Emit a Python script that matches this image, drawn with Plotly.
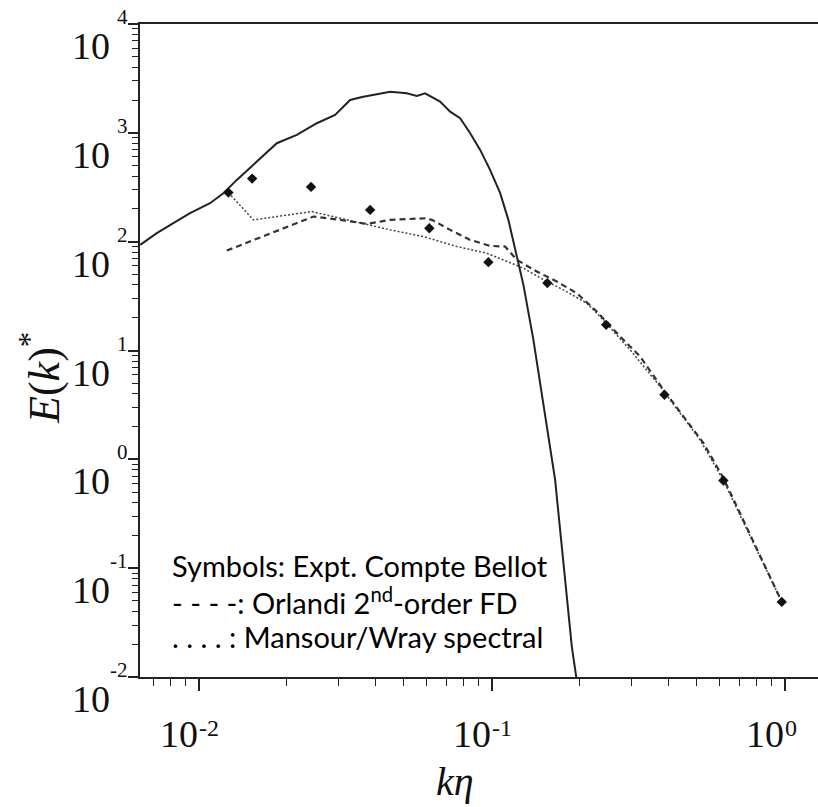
import plotly.graph_objects as go

# ---- data ----
dns_k = [0.00632, 0.00720, 0.00820, 0.00935, 0.01094, 0.01215, 0.01350, 0.01580, 0.01849,
         0.02164, 0.02532, 0.02923, 0.03290, 0.03614, 0.04034, 0.04503, 0.05136, 0.05557,
         0.0593, 0.0667, 0.0722, 0.0781, 0.0845, 0.0914, 0.0988, 0.1069, 0.1141, 0.1219,
         0.1284, 0.1389, 0.1503, 0.1647, 0.1754, 0.1878, 0.1973]
dns_E = [93.5, 119.7, 147.9, 182.7, 225.7, 278.9, 369.5, 543.8, 802.6,
         956.6, 1225, 1460, 2004, 2136, 2277, 2390, 2310, 2182,
         2310, 1934, 1565, 1362, 991, 696.6, 456.3, 280.6, 158.6, 73.0,
         40.1, 12.54, 3.06, 0.650, 0.1197, 0.01914, 0.00766]

orlandi_k = [0.01248, 0.02465, 0.03040, 0.03751, 0.04164, 0.04503, 0.06010, 0.06325, 0.0722,
             0.0845, 0.0988, 0.1112, 0.1219, 0.1426, 0.1669, 0.1953, 0.2286, 0.2746,
             0.3212, 0.3858, 0.4514, 0.5284, 0.6183, 0.978]
orlandi_E = [82.86, 170.0, 158.6, 145.7, 153.0, 158.6, 164.3, 156.2, 128.3,
             103.9, 91.5, 90.2, 68.1, 53.2, 43.0, 33.7, 22.8, 13.45,
             8.81, 4.36, 2.477, 1.411, 0.6735, 0.049]

mansour_k = [0.01264, 0.01538, 0.02434, 0.0385, 0.04503, 0.05854, 0.0761, 0.0963, 0.1127,
             0.1284, 0.1543, 0.1758, 0.2113, 0.2346, 0.2970, 0.3759, 0.4398, 0.5147,
             0.618, 0.978]
mansour_E = [282.5, 158.6, 189.0, 142.7, 128.3, 111.4, 90.2, 78.4, 65.7,
             57.1, 43.0, 36.1, 27.2, 20.5, 10.15, 4.67, 2.662, 1.514,
             0.640, 0.049]

expt_k = [0.01264, 0.01523, 0.0242, 0.0385, 0.0613, 0.0975, 0.155, 0.246, 0.389, 0.618, 0.978]
expt_E = [282.5, 379.7, 318.6, 195.9, 133.0, 64.8, 41.6, 17.2, 3.92, 0.640, 0.0490]

y_tick_exps = [-2, -1, 0, 1, 2, 3, 4]
x_tick_exps = [-2, -1, 0]

legend_lines = ["Symbols: Expt. Compte Bellot",
                "- - - -: Orlandi 2<sup>nd</sup>-order FD",
                ". . . . : Mansour/Wray spectral"]

# ---- figure ----
fig = go.Figure()
fig.add_trace(go.Scatter(x=mansour_k, y=mansour_E, mode="lines",
                         line=dict(color="#444", width=1.5, dash="2px,2px")))
fig.add_trace(go.Scatter(x=orlandi_k, y=orlandi_E, mode="lines",
                         line=dict(color="#333", width=2.2, dash="6px,4px")))
fig.add_trace(go.Scatter(x=dns_k, y=dns_E, mode="lines",
                         line=dict(color="#222", width=2)))
fig.add_trace(go.Scatter(x=expt_k, y=expt_E, mode="markers",
                         marker=dict(symbol="diamond", size=8, color="#111")))

serif = "Liberation Serif"
ann = []
for e in y_tick_exps:
    ann.append(dict(x=0, xref="paper", y=e, yref="y", text="10", showarrow=False,
                    xanchor="right", yanchor="middle", xshift=-28, yshift=-22,
                    font=dict(family=serif, size=38, color="#111")))
    ann.append(dict(x=0, xref="paper", y=e, yref="y", text=str(e), showarrow=False,
                    xanchor="right", yanchor="middle", xshift=-10, yshift=7,
                    font=dict(family=serif, size=21, color="#111")))
for e in x_tick_exps:
    ann.append(dict(x=e, xref="x", y=0, yref="paper", text="10", showarrow=False,
                    xanchor="right", yanchor="middle", xshift=1, yshift=-57,
                    font=dict(family=serif, size=38, color="#111")))
    ann.append(dict(x=e, xref="x", y=0, yref="paper", text=str(e), showarrow=False,
                    xanchor="left", yanchor="middle", xshift=-2, yshift=-51,
                    font=dict(family=serif, size=24, color="#111")))

ann.append(dict(x=0.4646, xref="paper", y=0, yref="paper", text="<i>kη</i>",
                showarrow=False, xanchor="center", yanchor="bottom", yshift=-129,
                font=dict(family=serif, size=40, color="#111")))
ann.append(dict(x=0, xref="paper", y=0.458, yref="paper",
                text="<i>E</i>(<i>k</i>)<sup>*</sup>", textangle=-90,
                showarrow=False, xanchor="center", yanchor="middle", xshift=-99,
                font=dict(family=serif, size=44, color="#111")))

leg_y = [0.1715, 0.1164, 0.0613]
for t, yy in zip(legend_lines, leg_y):
    ann.append(dict(x=0.0442, xref="paper", y=yy, yref="paper", text=t,
                    showarrow=False, xanchor="left", yanchor="middle", align="left",
                    font=dict(family="Lato", size=29, color="#000")))

axis_common = dict(type="log", showgrid=False, zeroline=False, showline=True,
                   linewidth=2, linecolor="#222", showticklabels=False,
                   ticks="outside", tickcolor="#222", tickwidth=1.5, dtick=1)

fig.update_layout(
    width=818, height=807,
    margin=dict(l=140, r=0, t=24, b=130),
    paper_bgcolor="white", plot_bgcolor="white",
    showlegend=False,
    xaxis=dict(range=[-2.2, 0.114], mirror=True, ticklen=12,
               minor=dict(ticks="outside", ticklen=7, tickwidth=1.2, tickcolor="#222",
                          dtick="D1", showgrid=False),
               **axis_common),
    yaxis=dict(range=[-2, 4], ticklen=10,
               minor=dict(ticks="outside", ticklen=6, tickwidth=1.2, tickcolor="#222",
                          dtick="D1", showgrid=False),
               **axis_common),
    annotations=ann,
)

fig.write_html("out.html")
